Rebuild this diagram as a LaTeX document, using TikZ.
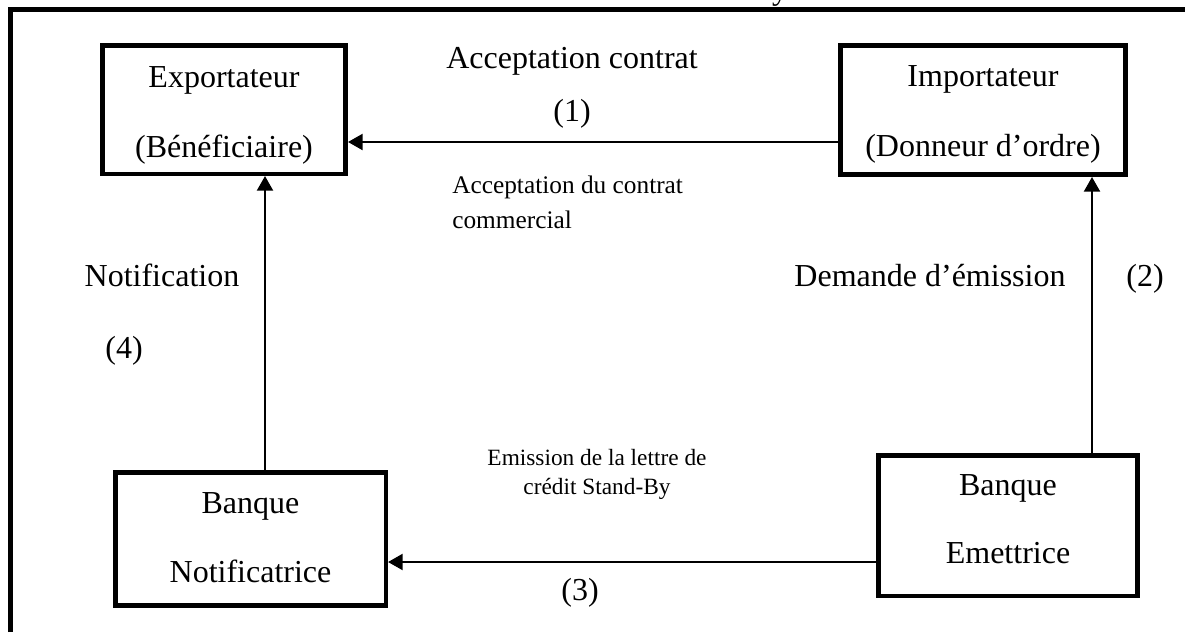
\documentclass[tikz,border=0pt]{standalone}
\usepackage{fontspec}
\setmainfont{Liberation Serif}
\usetikzlibrary{arrows.meta}
\begin{document}
\begin{tikzpicture}[x=0.75pt,y=-0.75pt,
  box/.style={draw,line width=3.4pt,inner sep=0pt},
  big/.style={font=\fontsize{24pt}{28pt}\selectfont,inner sep=0pt,anchor=base},
  small/.style={font=\fontsize{19pt}{23pt}\selectfont,inner sep=0pt,anchor=base},
  smaller/.style={font=\fontsize{17.5pt}{21pt}\selectfont,inner sep=0pt,anchor=base},
  conn/.style={line width=1.7pt,-{Triangle[length=11pt,width=12pt]}},
  frame/.style={line width=3.8pt}
]
\useasboundingbox (0,0) rectangle (1185,632);

% outer frame (top and left sides)
\coordinate (fbl) at (10.5,632);
\coordinate (ftl) at (10.5,9.5);
\coordinate (ftr) at (1185,9.5);
\draw[frame] (fbl) -- (ftl) -- (ftr);
\node[big] (ttl) at (780,-1) {y};

% parties
\node[box,minimum width=182.6pt,minimum height=96.4pt] (exp) at (224,109.5) {};
\node[big] (expa) at (224,87) {Exportateur};
\node[big] (expb) at (224,157) {(Bénéficiaire)};

\node[box,minimum width=214.1pt,minimum height=97.1pt] (imp) at (983,110) {};
\node[big] (impa) at (983,86) {Importateur};
\node[big] (impb) at (983,156) {(Donneur d’ordre)};

\node[box,minimum width=202.9pt,minimum height=100.1pt] (bn) at (250.5,539) {};
\node[big] (bna) at (250.5,513) {Banque};
\node[big] (bnb) at (250.5,582) {Notificatrice};

\node[box,minimum width=194.6pt,minimum height=105.4pt] (be) at (1008,525.5) {};
\node[big] (bea) at (1008,495) {Banque};
\node[big] (beb) at (1008,563) {Emettrice};

% connector positions
\coordinate (r1) at (0,142);
\coordinate (r3) at (0,562);
\coordinate (c4) at (265,0);
\coordinate (c2) at (1092,0);

% flows
\draw[conn] (imp.west |- r1) -- (exp.east |- r1);
\draw[conn] (be.north -| c2) -- (imp.south -| c2);
\draw[conn] (be.west |- r3) -- (bn.east |- r3);
\draw[conn] (bn.north -| c4) -- (exp.south -| c4);

% labels
\node[big] (l1a) at (572,68) {Acceptation contrat};
\node[big] (l1b) at (572,121) {(1)};
\node[small,anchor=base west] (l1c) at (452,193) {Acceptation du contrat};
\node[small,anchor=base west] (l1d) at (452,228) {commercial};

\node[big] (l2a) at (930,286) {Demande d’émission};
\node[big] (l2b) at (1145,286) {(2)};

\node[smaller] (l3a) at (597,465) {Emission de la lettre de};
\node[smaller] (l3b) at (597,494) {crédit Stand-By};
\node[big] (l3c) at (580,600) {(3)};

\node[big] (l4a) at (162,286) {Notification};
\node[big] (l4b) at (124,358) {(4)};
\end{tikzpicture}
\end{document}
